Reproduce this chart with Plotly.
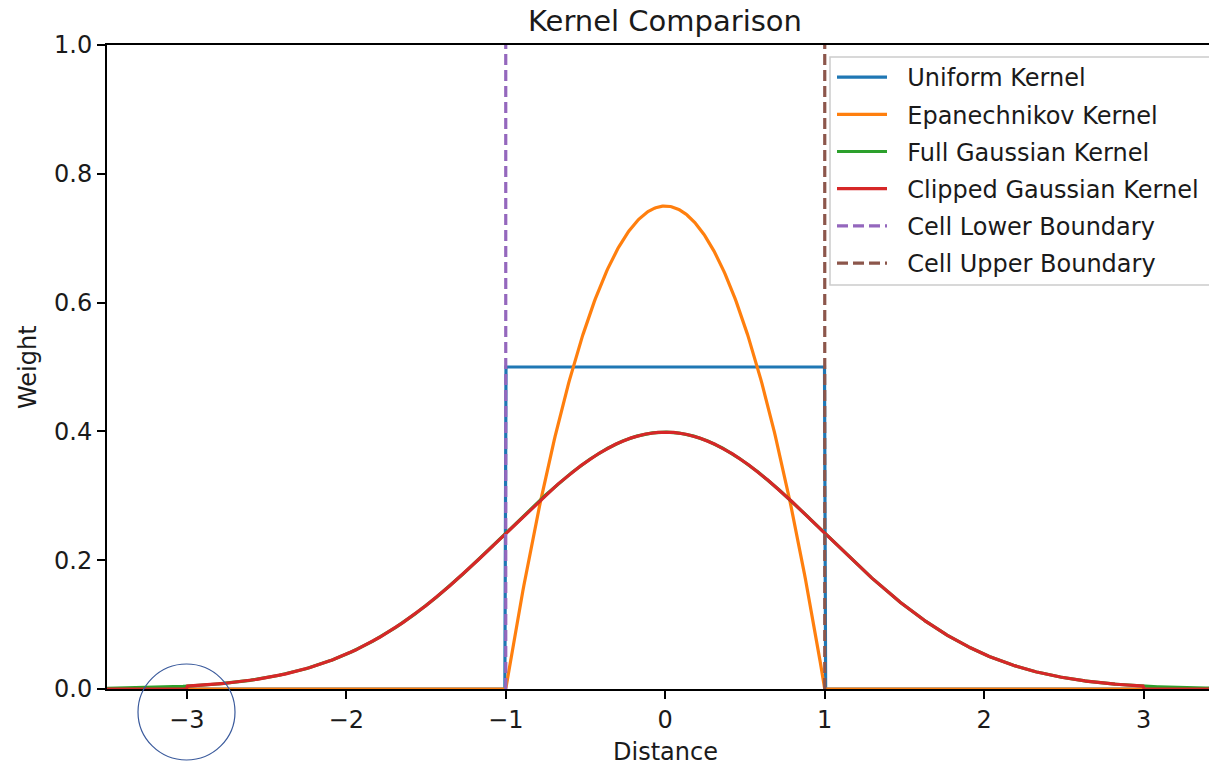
import numpy as np
import plotly.graph_objects as go

# ---- data ----
distance = np.linspace(-3.5, 3.5, 1000)
uniform_kernel = np.where(np.abs(distance) <= 1, 0.5, 0.0)
epanechnikov_kernel = np.where(np.abs(distance) <= 1, 0.75 * (1 - distance**2), 0.0)
full_gaussian_kernel = np.exp(-0.5 * distance**2) / np.sqrt(2 * np.pi)
clipped_gaussian_kernel = np.where(np.abs(distance) <= 3, full_gaussian_kernel, 0.0)
cell_lower = -1.0
cell_upper = 1.0

x_ticks = [-3, -2, -1, 0, 1, 2, 3]
x_tick_labels = ["\u22123", "\u22122", "\u22121", "0", "1", "2", "3"]
y_ticks = [0.0, 0.2, 0.4, 0.6, 0.8, 1.0]
y_tick_labels = ["0.0", "0.2", "0.4", "0.6", "0.8", "1.0"]

W, H = 1209, 765
L, R, T, B = 107, 0, 45, 76
pw, ph = W - L - R, H - T - B

FONT = "DejaVu Sans"
FS = 24
LW = 3.2
TXT = "#1a1a1a"

fig = go.Figure()
series = [
    ("Uniform Kernel", distance, uniform_kernel, "#1f77b4", "solid"),
    ("Epanechnikov Kernel", distance, epanechnikov_kernel, "#ff7f0e", "solid"),
    ("Full Gaussian Kernel", distance, full_gaussian_kernel, "#2ca02c", "solid"),
    ("Clipped Gaussian Kernel", distance, clipped_gaussian_kernel, "#d62728", "solid"),
    ("Cell Lower Boundary", [cell_lower, cell_lower], [0, 1], "#9467bd", "11px,5px"),
    ("Cell Upper Boundary", [cell_upper, cell_upper], [0, 1], "#8c564b", "11px,5px"),
]
for i, (name, xs, ys, col, dash) in enumerate(series):
    fig.add_trace(go.Scatter(
        x=xs, y=ys, mode="lines", name="\u00a0\u00a0" + name,
        legendgroup=f"g{i}",
        line=dict(color=col, width=LW, dash=dash),
    ))

x_right = -3.5 + pw / 159.5

fig.update_layout(
    width=W, height=H,
    margin=dict(l=L, r=R, t=T, b=B, autoexpand=False),
    paper_bgcolor="white", plot_bgcolor="white",
    font=dict(family=FONT, size=FS, color=TXT),
    showlegend=True,
    legend=dict(
        x=(832 - L) / pw, xanchor="left",
        y=(H - B - 55) / ph, yanchor="top",
        borderwidth=0, bgcolor="rgba(255,255,255,0)",
        font=dict(family=FONT, size=FS, color=TXT),
        traceorder="grouped", tracegroupgap=3,
        itemwidth=50,
    ),
    xaxis=dict(
        range=[-3.5, x_right], tickvals=x_ticks, ticktext=x_tick_labels,
        showgrid=False, zeroline=False, showline=True, linecolor="black", linewidth=1.9,
        mirror=True, ticks="outside", ticklen=8, tickwidth=1.9, tickcolor="black",
        tickfont=dict(size=FS, color=TXT),
    ),
    yaxis=dict(
        range=[0, 1], tickvals=y_ticks, ticktext=y_tick_labels,
        showgrid=False, zeroline=False, showline=True, linecolor="black", linewidth=1.9,
        ticks="outside", ticklen=8, tickwidth=1.9, tickcolor="black",
        tickfont=dict(size=FS, color=TXT),
    ),
    title=dict(text="Kernel Comparison", x=665 / W, xanchor="center",
               y=1 - 21 / H, yanchor="middle", xref="container",
               font=dict(size=29, color=TXT)),
    annotations=[
        dict(text="Distance", xref="paper", yref="paper", x=(665 - L) / pw,
             y=(H - B - 752) / ph, xanchor="center", yanchor="middle",
             showarrow=False, font=dict(size=FS, color=TXT)),
        dict(text="Weight", xref="paper", yref="paper", x=(28 - L) / pw,
             y=0.5, xanchor="center", yanchor="middle", textangle=-90,
             showarrow=False, font=dict(size=FS, color=TXT)),
    ],
    shapes=[
        dict(type="rect", xref="paper", yref="paper", layer="above",
             x0=(830 - L) / pw, x1=(1220 - L) / pw,
             y0=(H - B - 285) / ph, y1=(H - B - 57) / ph,
             fillcolor="rgba(255,255,255,0.85)",
             line=dict(color="#cccccc", width=1.5)),
        dict(type="circle", xref="paper", yref="paper",
             x0=(138 - L) / pw, x1=(235 - L) / pw,
             y0=(H - B - 760) / ph, y1=(H - B - 664) / ph,
             line=dict(color="#3a5a9c", width=1.2)),
    ],
)

fig.write_html("out.html")
